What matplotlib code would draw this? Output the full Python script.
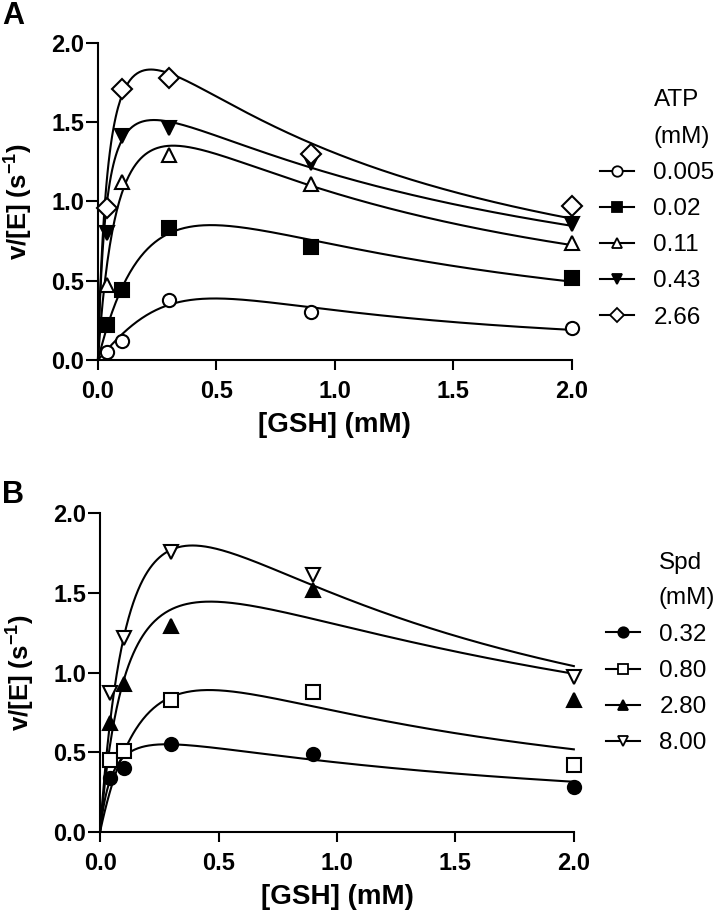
import matplotlib
matplotlib.use('Agg')
import matplotlib.pyplot as plt
import numpy as np
from matplotlib.lines import Line2D

plt.rcParams['font.family'] = ['Liberation Sans', 'DejaVu Sans']
plt.rcParams['mathtext.fontset'] = 'custom'
plt.rcParams['mathtext.rm'] = 'Liberation Sans'
plt.rcParams['mathtext.bf'] = 'Liberation Sans:bold'

# GSH concentrations (mM)
gsh = [0.04, 0.1, 0.3, 0.9, 2.0]

# Panel A: ATP series
atp_labels = ['0.005', '0.02', '0.11', '0.43', '2.66']
atp_markers = ['o', 's', '^', 'v', 'D']
atp_filled = [False, True, False, True, False]
atp_v = [
    [0.05, 0.12, 0.38, 0.30, 0.20],
    [0.22, 0.44, 0.83, 0.71, 0.52],
    [0.47, 1.12, 1.29, 1.11, 0.74],
    [0.80, 1.41, 1.46, 1.24, 0.86],
    [0.96, 1.71, 1.78, 1.30, 0.97],
]
# fitted substrate-inhibition parameters (Vmax, Km, Ki)
atp_fit = [
    (4.22, 2.44, 0.10),
    (2.10, 0.351, 0.65),
    (2.21, 0.101, 1.00),
    (1.99, 0.0373, 1.50),
    (2.61, 0.0475, 1.05),
]

# Panel B: Spd series
spd_labels = ['0.32', '0.80', '2.80', '8.00']
spd_markers = ['o', 's', '^', 'v']
spd_filled = [True, False, True, False]
spd_v = [
    [0.34, 0.40, 0.55, 0.49, 0.28],
    [0.45, 0.51, 0.83, 0.88, 0.42],
    [0.68, 0.93, 1.29, 1.52, 0.83],
    [0.87, 1.22, 1.76, 1.61, 0.97],
]
spd_fit = [
    (0.771, 0.057, 1.40),
    (2.01, 0.289, 0.73),
    (2.26, 0.131, 1.65),
    (3.20, 0.152, 1.00),
]


def model(s, vmax, km, ki):
    return vmax * s / (km + s + s * s / ki)


def msize(m):
    return 10.5 if m == 'D' else 9.5


def panel(ax, vals, fits, markers, filled, labels, legx, legy):
    s = np.linspace(0, 2.0, 400)
    for v, p, m, f in zip(vals, fits, markers, filled):
        ax.plot(s, model(s, *p), color='black', lw=1.5, zorder=2, clip_on=False)
        ax.plot(gsh, v, linestyle='none', marker=m, ms=msize(m),
                mfc='black' if f else 'white', mec='black', mew=1.5,
                zorder=3, clip_on=False)
    ax.set_xlim(0, 2.0)
    ax.set_ylim(0, 2.0)
    ax.set_xticks([0.0, 0.5, 1.0, 1.5, 2.0])
    ax.set_yticks([0.0, 0.5, 1.0, 1.5, 2.0])
    ax.set_xticklabels(['0.0', '0.5', '1.0', '1.5', '2.0'])
    ax.set_yticklabels(['0.0', '0.5', '1.0', '1.5', '2.0'])
    for sp in ['top', 'right']:
        ax.spines[sp].set_visible(False)
    for sp in ['left', 'bottom']:
        ax.spines[sp].set_linewidth(1.5)
    ax.tick_params(axis='x', direction='out', length=7.5, width=1.5, labelsize=17, pad=7)
    ax.tick_params(axis='y', direction='out', length=8.5, width=1.5, labelsize=17, pad=1.5)
    for t in ax.get_xticklabels() + ax.get_yticklabels():
        t.set_fontweight('bold')
    ax.set_xlabel('[GSH] (mM)', fontsize=20, fontweight='bold')
    ax.set_ylabel(r'v/[E] (s$^{\mathbf{-1}}$)', fontsize=18.5, fontweight='bold')
    ax.xaxis.set_label_coords(0.5, -0.165)
    ax.yaxis.set_label_coords(-0.135, 0.5)

    handles = [Line2D([0], [0], color='black', lw=1.5, marker=m, ms=7.5,
                      mfc='black' if f else 'white', mec='black', mew=1.3)
               for m, f in zip(markers, filled)]
    ax.legend(handles, labels, loc='center left', bbox_to_anchor=(legx, legy),
              bbox_transform=fig.transFigure, frameon=False, fontsize=17.5,
              handlelength=1.4, handletextpad=0.8, labelspacing=0.58,
              borderpad=0, borderaxespad=0)


fig = plt.figure(figsize=(7.2, 9.17), dpi=100)
axA = fig.add_axes([0.136, 0.6074, 0.658, 0.346])
axB = fig.add_axes([0.139, 0.0930, 0.658, 0.3472])

panel(axA, atp_v, atp_fit, atp_markers, atp_filled, atp_labels, 0.8333, 0.7325)
panel(axB, spd_v, spd_fit, spd_markers, spd_filled, spd_labels, 0.8417, 0.2485)

fig.text(0.908, 0.891, 'ATP', fontsize=17.5, ha='left', va='center')
fig.text(0.908, 0.8506, '(mM)', fontsize=17.5, ha='left', va='center')
fig.text(0.915, 0.386, 'Spd', fontsize=17.5, ha='left', va='center')
fig.text(0.915, 0.348, '(mM)', fontsize=17.5, ha='left', va='center')

fig.text(0.003, 0.9826, 'A', fontsize=22, fontweight='bold', ha='left', va='center')
fig.text(0.003, 0.460, 'B', fontsize=22, fontweight='bold', ha='left', va='center')

fig.savefig('out.png', dpi=100)
